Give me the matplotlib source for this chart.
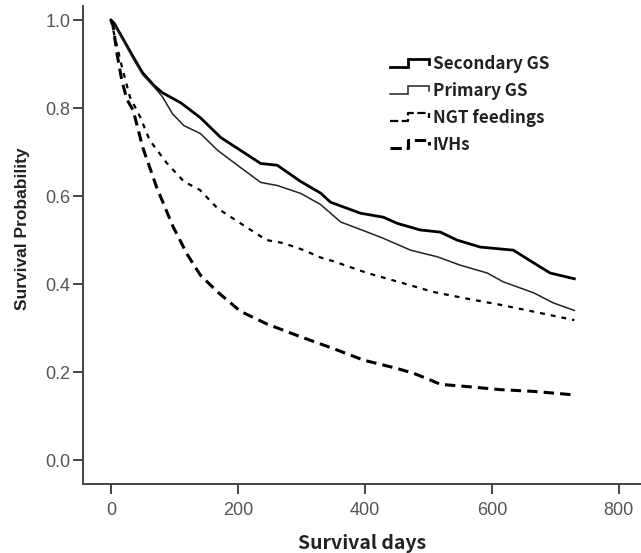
import matplotlib
matplotlib.use("Agg")
import matplotlib.pyplot as plt
from matplotlib.lines import Line2D
from matplotlib.legend_handler import HandlerBase

# ---- data ----
labels = ["Secondary GS", "Primary GS", "NGT feedings", "IVHs"]

sec_days = [0, 5, 20, 36, 50, 68, 81, 110, 141, 173, 204, 236, 262, 299, 330,
            346, 393, 429, 451, 487, 519, 545, 582, 634, 666, 692, 730]
sec_prob = [1.0, 0.993, 0.955, 0.914, 0.88, 0.851, 0.835, 0.812, 0.778, 0.733,
            0.704, 0.674, 0.670, 0.633, 0.607, 0.586, 0.561, 0.552, 0.538,
            0.523, 0.518, 0.500, 0.484, 0.477, 0.448, 0.425, 0.412]

pri_days = [0, 5, 20, 36, 50, 68, 81, 97, 115, 141, 168, 204, 236, 262, 299,
            330, 362, 404, 429, 472, 514, 550, 593, 618, 666, 697, 730]
pri_prob = [1.0, 0.99, 0.952, 0.91, 0.876, 0.848, 0.826, 0.787, 0.760, 0.742,
            0.704, 0.665, 0.631, 0.624, 0.606, 0.581, 0.541, 0.518, 0.504,
            0.477, 0.462, 0.443, 0.425, 0.405, 0.380, 0.357, 0.340]

ngt_days = [0, 8, 18, 30, 46, 61, 88, 115, 140, 168, 203, 245, 272, 304, 329,
            350, 404, 460, 508, 560, 613, 670, 730]
ngt_prob = [1.0, 0.95, 0.89, 0.825, 0.780, 0.727, 0.675, 0.633, 0.614, 0.572,
            0.539, 0.500, 0.493, 0.477, 0.461, 0.452, 0.425, 0.402, 0.382,
            0.367, 0.353, 0.336, 0.318]

ivh_days = [0, 3, 10, 17, 25, 35, 50, 72, 98, 120, 141, 168, 204, 246, 299,
            351, 398, 451, 477, 503, 519, 561, 613, 666, 730]
ivh_prob = [1.0, 0.99, 0.92, 0.864, 0.82, 0.795, 0.711, 0.620, 0.530, 0.468,
            0.42, 0.382, 0.338, 0.309, 0.28, 0.253, 0.227, 0.208, 0.197,
            0.182, 0.172, 0.167, 0.160, 0.156, 0.148]

x_ticks = [0, 200, 400, 600, 800]
y_ticks = [0.0, 0.2, 0.4, 0.6, 0.8, 1.0]

LABEL_FONT = ["Noto Sans CJK JP", "DejaVu Sans"]
NARROW_FONT = ["Liberation Sans Narrow", "Liberation Sans", "DejaVu Sans"]

fig = plt.figure(figsize=(6.41, 5.53), dpi=100)
ax = fig.add_axes([83 / 641, 69 / 553, (641 - 83) / 641, (484 - 6) / 553])

styles = [
    dict(color="black", lw=2.0, ls="-"),
    dict(color="#222222", lw=1.1, ls="-"),
    dict(color="black", lw=1.6, ls=(0, (2.2, 2.7))),
    dict(color="black", lw=2.2, ls=(0, (3.4, 2.0))),
]
series = [(sec_days, sec_prob), (pri_days, pri_prob),
          (ngt_days, ngt_prob), (ivh_days, ivh_prob)]

handles = []
for (d, p), st, lab in zip(series, styles, labels):
    ln, = ax.plot(d, p, label=lab, solid_joinstyle="round", **st)
    handles.append(ln)

ax.set_xlim(-44, 835)
ax.set_ylim(-0.0545, 1.032)
ax.set_xticks(x_ticks)
ax.set_xticklabels([str(v) for v in x_ticks])
ax.set_yticks(y_ticks)
ax.set_yticklabels([f"{v:.1f}" for v in y_ticks])

for s in ["top", "right"]:
    ax.spines[s].set_visible(False)
for s in ["left", "bottom"]:
    ax.spines[s].set_color("#444444")
    ax.spines[s].set_linewidth(1.4)

ax.tick_params(axis="both", length=7, width=1.4, color="#444444",
               labelcolor="#555555", labelsize=13)
ax.tick_params(axis="x", pad=6)
ax.tick_params(axis="y", pad=2)
for t in ax.get_xticklabels() + ax.get_yticklabels():
    t.set_family(NARROW_FONT)

ax.set_xlabel("Survival days", family=LABEL_FONT, fontweight="bold",
              fontsize=14, color="#222222", labelpad=11)
ax.set_ylabel("Survival Probability", family=NARROW_FONT, fontweight="bold",
              fontsize=12.5, color="#222222")
ax.yaxis.set_label_coords(-0.095, 0.5335)


class StepHandler(HandlerBase):
    def create_artists(self, legend, orig_handle, xdescent, ydescent,
                       width, height, fontsize, trans):
        fx = [0.0, 0.45, 0.45, 0.95, 0.95]
        fy = [0.15, 0.15, 0.85, 0.85, 0.45]
        xs = [f * width - xdescent for f in fx]
        ys = [f * height - ydescent for f in fy]
        ln = Line2D(xs, ys, color=orig_handle.get_color(),
                    lw=orig_handle.get_linewidth(),
                    ls=orig_handle.get_linestyle(),
                    solid_joinstyle="miter")
        ln.set_transform(trans)
        return [ln]


leg = ax.legend(handles=handles, labels=labels,
                handler_map={Line2D: StepHandler()},
                loc="upper left", bbox_to_anchor=(390 / 641, 1 - 55 / 553),
                bbox_transform=fig.transFigure, frameon=False,
                prop={"family": LABEL_FONT, "weight": "bold", "size": 12.3},
                handlelength=2.4, handletextpad=0.1, labelspacing=0.53,
                borderpad=0, borderaxespad=0)
for t in leg.get_texts():
    t.set_color("#222222")

fig.savefig("out.png", dpi=100)
